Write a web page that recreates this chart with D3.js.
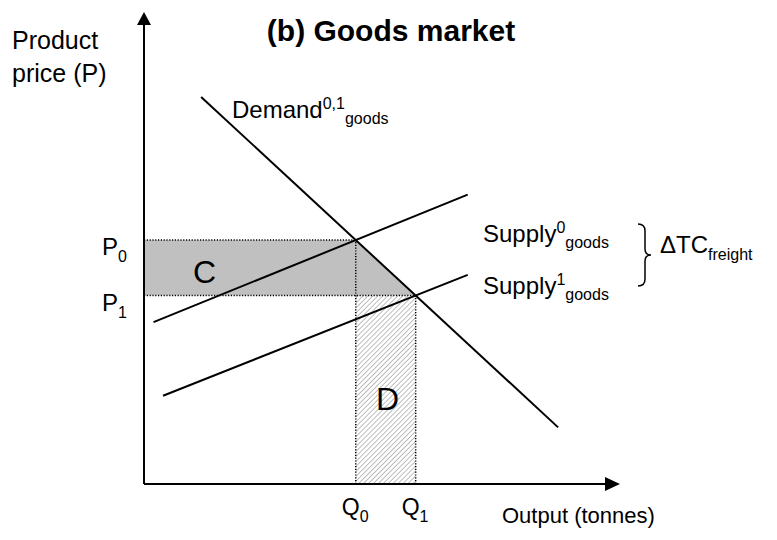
<!DOCTYPE html>
<html>
<head>
<meta charset="utf-8">
<script src="https://cdn.jsdelivr.net/npm/d3@7"></script>
<style>
  body { margin: 0; background: #fff; }
  svg text { font-family: "Liberation Sans", Arial, sans-serif; fill: #000; }
</style>
</head>
<body>
<svg id="chart" width="777" height="540"></svg>
<script>
(function() {

  // curves, in chart units (0..100 on both axes)
  var demand = [[12, 82], [87, 12]];
  var supply0 = [[2, 34.3], [68, 61.3]];
  var supply1 = [[4, 18.7], [68, 44.3]];
  var priceLabels = ["P", "P"];
  var priceSubs = ["0", "1"];
  var qtyLabels = ["Q", "Q"];
  var qtySubs = ["0", "1"];

  var svg = d3.select("#chart");

  var x = d3.scaleLinear().domain([0, 100]).range([144, 620]);
  var y = d3.scaleLinear().domain([0, 100]).range([484, 12]);

  function intersect(a, b) {
    var m1 = (a[1][1] - a[0][1]) / (a[1][0] - a[0][0]);
    var m2 = (b[1][1] - b[0][1]) / (b[1][0] - b[0][0]);
    var c1 = a[0][1] - m1 * a[0][0];
    var c2 = b[0][1] - m2 * b[0][0];
    var xi = (c2 - c1) / (m1 - m2);
    return [xi, m1 * xi + c1];
  }

  var e0 = intersect(demand, supply0);
  var e1 = intersect(demand, supply1);

  // hatch pattern for area D
  var defs = svg.append("defs");
  var pat = defs.append("pattern")
      .attr("id", "hatch")
      .attr("patternUnits", "userSpaceOnUse")
      .attr("width", 3.5)
      .attr("height", 3.5)
      .attr("patternTransform", "rotate(45)");
  pat.append("line")
      .attr("x1", 0).attr("y1", 0)
      .attr("x2", 0).attr("y2", 3.5)
      .attr("stroke", "#a8a8a8")
      .attr("stroke-width", 1.5);

  // area C
  svg.append("path")
      .attr("d", d3.line()([
        [x(0), y(e0[1])], [x(e0[0]), y(e0[1])],
        [x(e1[0]), y(e1[1])], [x(0), y(e1[1])]
      ]) + "Z")
      .style("fill", "#c0c0c0");

  // area D
  svg.append("rect")
      .attr("x", x(e0[0]))
      .attr("y", y(e1[1]))
      .attr("width", x(e1[0]) - x(e0[0]))
      .attr("height", y(0) - y(e1[1]))
      .style("fill", "url(#hatch)");

  // dotted guides
  var guides = [
    [[0, e0[1]], e0], [[0, e1[1]], e1],
    [[e0[0], 0], e0], [[e1[0], 0], e1]
  ];
  svg.selectAll(".guide").data(guides).enter()
    .append("line")
      .attr("class", "guide")
      .attr("x1", function(d) { return x(d[0][0]); })
      .attr("y1", function(d) { return y(d[0][1]); })
      .attr("x2", function(d) { return x(d[1][0]); })
      .attr("y2", function(d) { return y(d[1][1]); })
      .attr("stroke", "#000")
      .attr("stroke-width", 1.5)
      .attr("stroke-dasharray", "1.2,1.6");

  // curves
  svg.selectAll(".curve").data([demand, supply0, supply1]).enter()
    .append("line")
      .attr("class", "curve")
      .attr("x1", function(d) { return x(d[0][0]); })
      .attr("y1", function(d) { return y(d[0][1]); })
      .attr("x2", function(d) { return x(d[1][0]); })
      .attr("y2", function(d) { return y(d[1][1]); })
      .attr("stroke", "#000")
      .attr("stroke-width", 2);

  // axes
  svg.append("line")
      .attr("x1", x(0)).attr("y1", y(0))
      .attr("x2", x(0)).attr("y2", y(100) + 10)
      .attr("stroke", "#000").attr("stroke-width", 2);
  svg.append("path")
      .attr("d", "M" + x(0) + "," + y(100) + " l-7,13 l14,0 Z")
      .style("fill", "#000");
  svg.append("line")
      .attr("x1", x(0)).attr("y1", y(0))
      .attr("x2", x(100) - 10).attr("y2", y(0))
      .attr("stroke", "#000").attr("stroke-width", 2);
  svg.append("path")
      .attr("d", "M" + x(100) + "," + y(0) + " l-15,-7 l0,14 Z")
      .style("fill", "#000");

  // text helper with optional sub/superscripts
  function label(px, py, parts, size, anchor) {
    var t = svg.append("text")
        .attr("x", px).attr("y", py)
        .style("font-size", size + "px")
        .attr("text-anchor", anchor || "start");
    parts.forEach(function(p) {
      var s = t.append("tspan").text(p.t);
      if (p.dy) s.attr("dy", p.dy).style("font-size", Math.round(size * 0.68) + "px");
    });
    return t;
  }

  svg.append("text")
      .attr("x", 391).attr("y", 41)
      .attr("text-anchor", "middle")
      .style("font-size", "30px")
      .style("font-weight", "bold")
      .text("(b) Goods market");

  label(12, 49, [{t: "Product"}], 25);
  label(12, 82, [{t: "price (P)"}], 25);

  label(232, 118, [{t: "Demand"}, {t: "0,1", dy: -9}, {t: "goods", dy: 15}], 24);
  label(483, 242, [{t: "Supply"}, {t: "0", dy: -9}, {t: "goods", dy: 15}], 24);
  label(483, 294, [{t: "Supply"}, {t: "1", dy: -9}, {t: "goods", dy: 15}], 24);
  label(660, 253, [{t: "\u0394TC"}, {t: "freight", dy: 7}], 24);

  // brace
  var bx = 638, byTop = 224, byBot = 286, bym = (byTop + byBot) / 2;
  svg.append("path")
      .attr("d", "M" + bx + "," + byTop +
        " q7,0 7,7 L" + (bx + 7) + "," + (bym - 6) +
        " q0,6 6,6 q-6,0 -6,6 L" + (bx + 7) + "," + (byBot - 7) +
        " q0,7 -7,7")
      .attr("fill", "none")
      .attr("stroke", "#000")
      .attr("stroke-width", 1.5);

  // price labels
  [e0, e1].forEach(function(e, i) {
    label(x(0) - 42, y(e[1]) + 15, [{t: priceLabels[i]}, {t: priceSubs[i], dy: 7}], 24);
  });
  // quantity labels
  [e0, e1].forEach(function(e, i) {
    label(x(e[0]) - 14, y(0) + 31, [{t: qtyLabels[i]}, {t: qtySubs[i], dy: 7}], 23);
  });

  label(502, 523, [{t: "Output (tonnes)"}], 22);

  label(193, 283, [{t: "C"}], 32);
  label(376, 410, [{t: "D"}], 32);

})();
</script>
</body>
</html>
